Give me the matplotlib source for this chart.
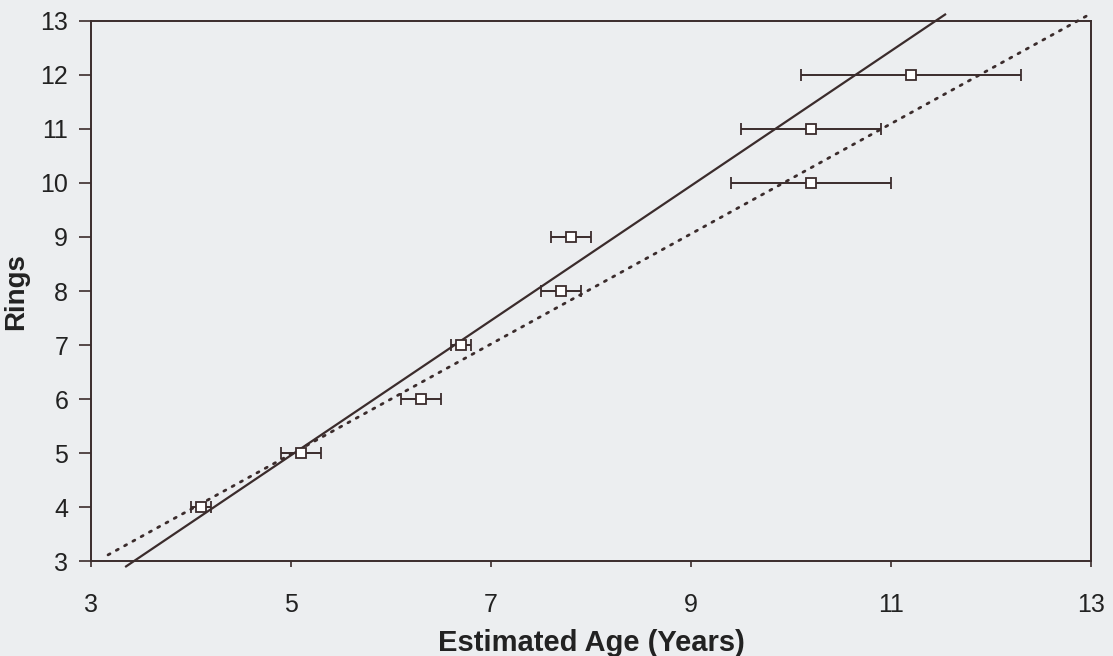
import matplotlib.pyplot as plt
import numpy as np

plt.rcParams['font.family'] = ['Liberation Sans', 'DejaVu Sans']

# estimated age (years) with +/- error, against ring count
est_age = [4.1, 5.1, 6.3, 6.7, 7.7, 7.8, 10.2, 10.2, 11.2]
age_err = [0.1, 0.2, 0.2, 0.1, 0.2, 0.2, 0.8, 0.7, 1.1]
rings = [4, 5, 6, 7, 8, 9, 10, 11, 12]

# fitted line (solid) and reference line (dotted): slope, intercept
fit_line = (1.248, -1.281)
ref_line = (1.02, -0.12)

x_ticks = [3, 5, 7, 9, 11, 13]
y_ticks = list(range(3, 14))

ink = '#3b2c2c'
bg = '#eceef0'

fig = plt.figure(figsize=(11.13, 6.56), dpi=100, facecolor=bg)
ax = fig.add_axes([0.0818, 0.1448, 0.8986, 0.8232], facecolor=bg)

# solid regression line, drawn slightly past the frame like the original
ys = np.array([2.9, 13.12])
xs = (ys - fit_line[1]) / fit_line[0]
ax.plot(xs, ys, color=ink, lw=1.6, clip_on=False, zorder=2)

xd = np.array([3.17, 12.95])
ax.plot(xd, ref_line[0] * xd + ref_line[1], color=ink, lw=2.0,
        linestyle=(0, (0.8, 2.6)), dash_capstyle='round', clip_on=False, zorder=2)

ax.errorbar(est_age, rings, xerr=age_err, fmt='s', color=ink, ecolor=ink,
            elinewidth=1.4, capsize=4, capthick=1.4, markersize=6.5,
            markerfacecolor='white', markeredgecolor=ink, markeredgewidth=1.3,
            zorder=3)

ax.set_xlim(3, 13)
ax.set_ylim(3, 13)
ax.set_xticks(x_ticks)
ax.set_yticks(y_ticks)
ax.tick_params(axis='x', direction='out', length=4, width=1.2, color=ink,
               labelsize=18, pad=19, labelcolor='#222222')
ax.tick_params(axis='y', direction='out', length=8.5, width=1.2, color=ink,
               labelsize=18, pad=8, labelcolor='#222222')
for s in ax.spines.values():
    s.set_color(ink)
    s.set_linewidth(1.4)

ax.set_xlabel('Estimated Age (Years)', fontsize=21, fontweight='bold',
              color='#222222', labelpad=9)
# y label placed by hand so it stays inside the figure
fig.text(0.0145, 0.555, 'Rings', rotation=90, ha='center', va='center',
         fontsize=20, fontweight='bold', color='#222222')

plt.savefig('out.png', dpi=100, facecolor=bg)
